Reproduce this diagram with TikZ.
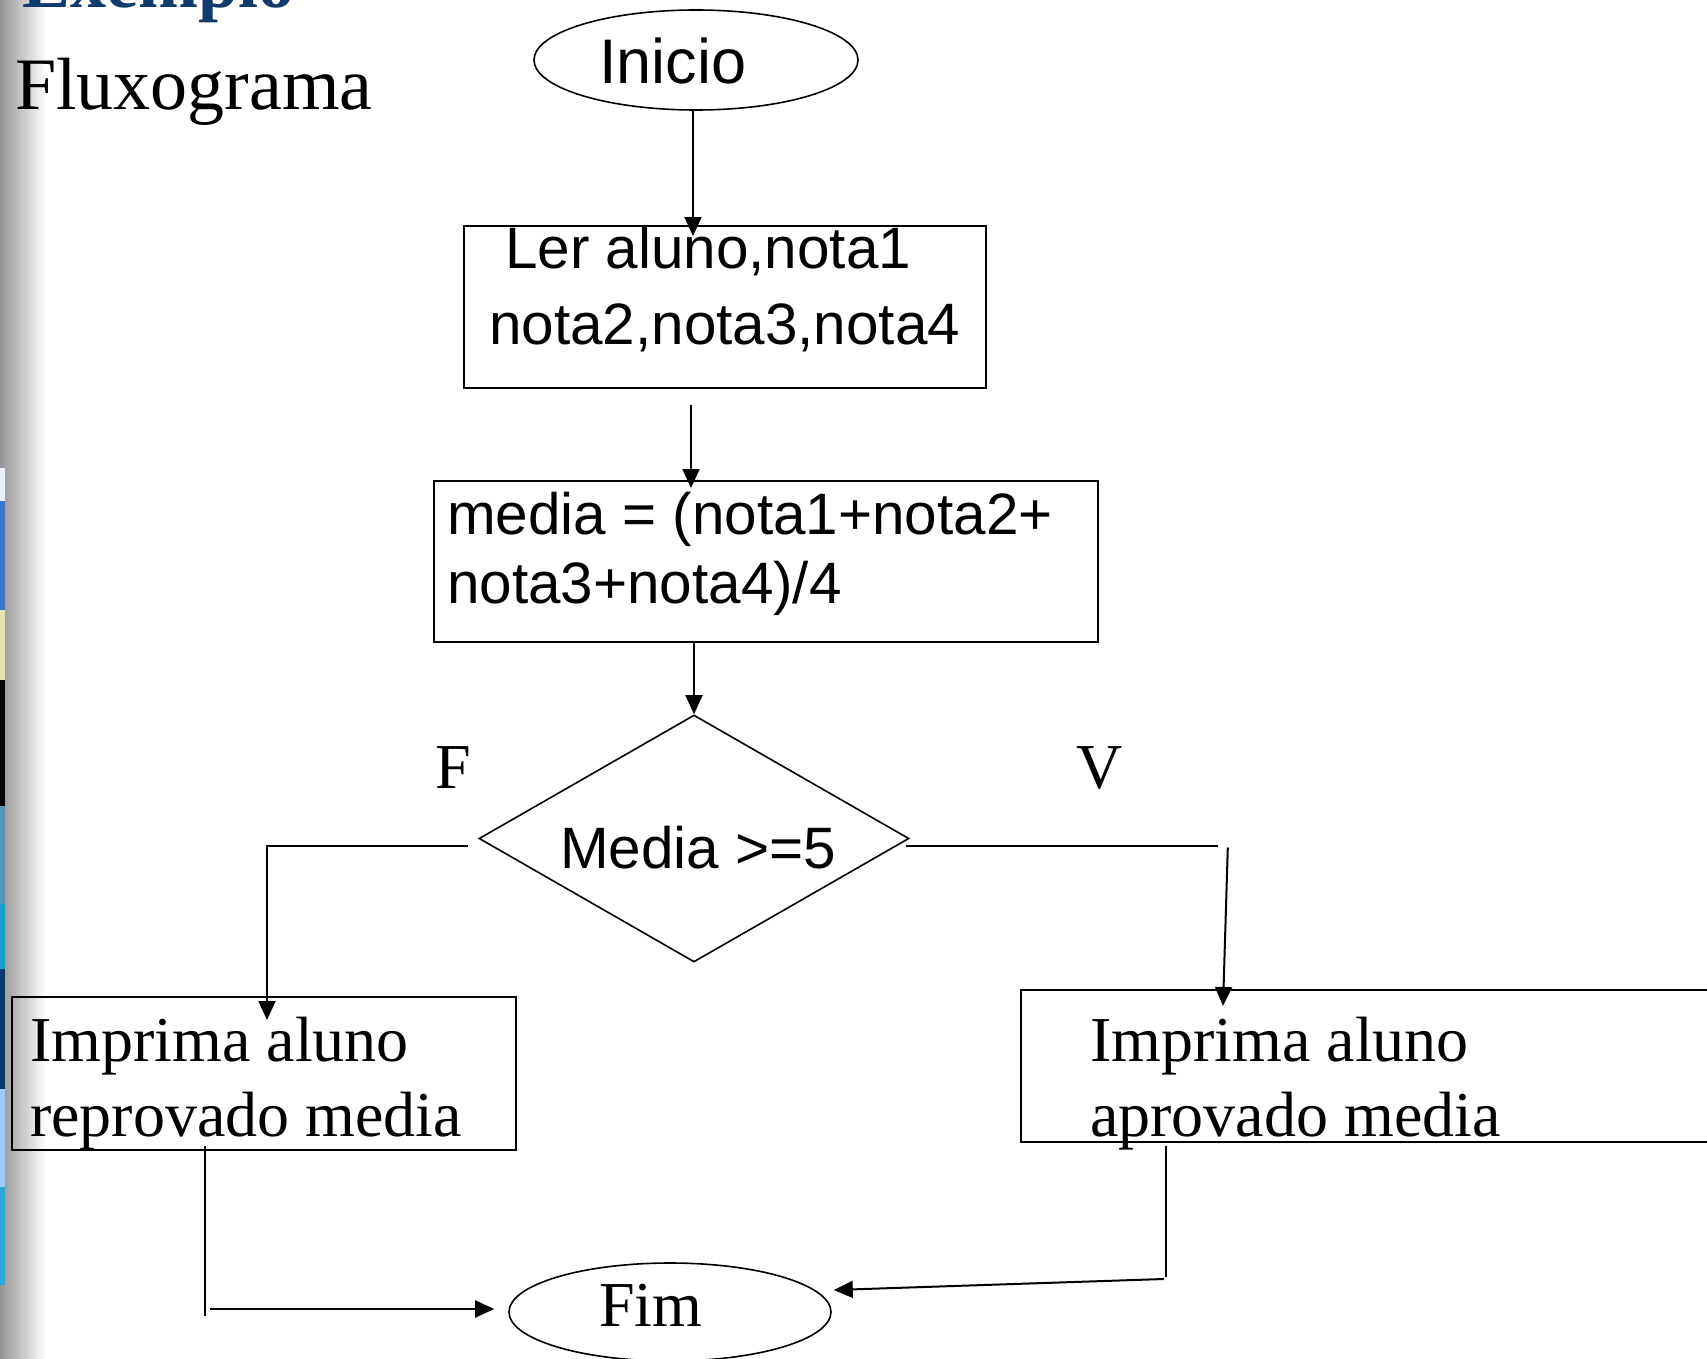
\documentclass[tikz,border=0pt]{standalone}
\usepackage{fontspec}
\setmainfont{Liberation Serif}
\newfontfamily\arialfont{Liberation Sans}
\usetikzlibrary{shapes.geometric,arrows.meta,calc}
\definecolor{titleblue}{HTML}{0F3B6E}
\definecolor{stripA}{HTML}{E8F0FB}
\definecolor{stripB}{HTML}{3F74C8}
\definecolor{stripC}{HTML}{E3E2B4}
\definecolor{stripD}{HTML}{000000}
\definecolor{stripE}{HTML}{5793B4}
\definecolor{stripF}{HTML}{1A9CCF}
\definecolor{stripG}{HTML}{0A3A68}
\definecolor{stripH}{HTML}{9CCBF8}
\definecolor{stripI}{HTML}{2FA6D8}
\begin{document}
\begin{tikzpicture}[x=1pt,y=-1pt,
  frame/.style={draw, rectangle, line width=2pt, inner sep=0pt},
  oval/.style={draw, ellipse, line width=1.6pt, inner sep=0pt},
  sans/.style={font=\arialfont\fontsize{58.4}{66}\selectfont, inner sep=0pt, anchor=base west},
  serif/.style={font=\fontsize{64}{74}\selectfont, inner sep=0pt, anchor=base west},
  arr/.style={line width=2pt, -{Triangle[width=17pt,length=19pt]}},
  link/.style={line width=2pt}]
\useasboundingbox (0,0) rectangle (1707,1359);
\clip (0,0) rectangle (1707,1359);
\fill[white] (0,0) rectangle (1707,1359);

% slide margin: grey fade and coloured strip
\shade[left color=black!42, right color=white] (0,0) rectangle (46,1359);
\fill[stripA] (0,468)  rectangle (5,501);
\fill[stripB] (0,501)  rectangle (5,610);
\fill[stripC] (0,610)  rectangle (5,680);
\fill[stripD] (0,680)  rectangle (5,806);
\fill[stripE] (0,806)  rectangle (5,904);
\fill[stripF] (0,904)  rectangle (5,969);
\fill[stripG] (0,969)  rectangle (5,1089);
\fill[stripH] (0,1089) rectangle (5,1187);
\fill[stripI] (0,1187) rectangle (5,1285);

% headings
\node[anchor=base west, inner sep=0pt, text=titleblue,
      font=\bfseries\fontsize{72}{80}\selectfont] (title) at (22,8) {Exemplo};
\node[anchor=base west, inner sep=0pt,
      font=\fontsize{74}{84}\selectfont] (sub) at (15,110) {Fluxograma};

% shapes
\node[oval, minimum width=324, minimum height=100] (inicio) at (696,60) {};
\node[frame, minimum width=522, minimum height=162] (box1) at (725,307) {};
\node[frame, minimum width=664, minimum height=161] (box2) at (766,561.5) {};
\node[draw, diamond, line width=1.6pt, inner sep=0pt,
      minimum width=430, minimum height=247] (dia) at (694,838.5) {};
\node[frame, minimum width=504, minimum height=153] (boxL) at (264,1073.5) {};
\node[frame, minimum width=699, minimum height=152] (boxR) at (1370.5,1066) {};
\node[oval, minimum width=322, minimum height=98] (fim) at (670,1312) {};

% texts
\node[sans, font=\arialfont\fontsize{63}{70}\selectfont] (tInicio) at (599,84) {Inicio};
\node[sans] (tLer1) at (505,268) {Ler aluno,nota1};
\node[sans] (tLer2) at (489,344) {nota2,nota3,nota4};
\node[sans] (tMed1) at (447,534) {media = (nota1+nota2+};
\node[sans] (tMed2) at (447,603) {nota3+nota4)/4};
\node[sans] (tCond) at (560,868) {Media >=5};
\node[serif] (tF) at (435,788) {F};
\node[serif] (tV) at (1076,788) {V};
\node[serif] (tRep1) at (30,1061) {Imprima aluno};
\node[serif] (tRep2) at (30,1136) {reprovado media};
\node[serif] (tApr1) at (1090,1061) {Imprima aluno};
\node[serif] (tApr2) at (1090,1136) {aprovado media};
\node[serif] (tFim) at (599,1326) {Fim};

% connectors
\draw[arr, shorten >=-11pt] ($(inicio.south)+(-3,0)$) -- ($(inicio.south |- box1.north)+(-3,0)$);
\draw[arr] ($(box1.south)+(-34,16)$) -- ($(box1.south |- box2.north)+(-34,8)$);
\draw[arr] (dia.north |- box2.south) -- (dia.north);
\draw[arr] ($(dia.west)+(-10,7)$) -| ($(boxL.north)+(3,24)$);
\draw[link] ($(dia.east)+(-4,7)$) -- ($(dia.east)+(308,7)$);
\draw[arr] ($(dia.east)+(318,9)$) -- ($(boxR.north west)+(203,17)$);
\draw[link, line width=1.5pt] ($(boxL.south west)+(194,-5)$) -- ($(boxL.south west)+(194,165)$);
\draw[arr] ($(fim.west)+(-298,-3)$) -- ($(fim.west)+(-14,-3)$);
\draw[link, line width=1.5pt] ($(boxR.south west)+(146,3)$) -- ($(boxR.south west)+(146,134)$);
\draw[arr] ($(fim.east)+(332,-33)$) -- ($(fim.east)+(2,-22)$);
\end{tikzpicture}
\end{document}
